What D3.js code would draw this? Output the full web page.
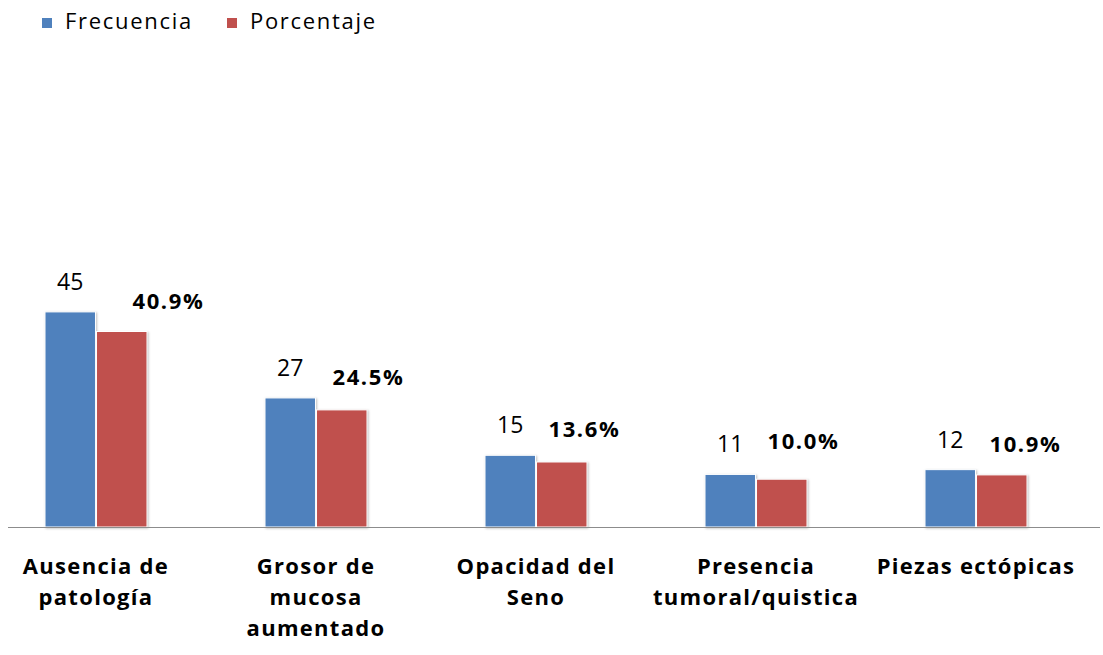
<!DOCTYPE html>
<html>
<head>
<meta charset="utf-8">
<script src="https://cdn.jsdelivr.net/npm/d3@7"></script>
<style>
  body { margin: 0; background: #fff; }
  text { font-family: "Open Sans", sans-serif; fill: #000; }
</style>
</head>
<body>
<div id="graph"></div>
<script>
// data
var categories = ["Ausencia de patología", "Grosor de mucosa aumentado", "Opacidad del Seno", "Presencia tumoral/quistica", "Piezas ectópicas"];
var categoryLines = [["Ausencia de", "patología"], ["Grosor de", "mucosa", "aumentado"], ["Opacidad del", "Seno"], ["Presencia", "tumoral/quistica"], ["Piezas ectópicas"]];
var series = ["Frecuencia", "Porcentaje"];
var frecuencia = [45, 27, 15, 11, 12];
var porcentaje = [40.9, 24.5, 13.6, 10.0, 10.9];
var colors = ["#4f81bd", "#c0504d"];

// percent labels were nudged by hand in the original
var pctDx = [36, 16, 12, 11, 13];
var pctDy = [22, 25, 25, 30, 23];

var width = 1103, height = 655;
var baseY = 527;

var svg = d3.select('#graph')
  .append('svg')
    .attr("width", width)
    .attr("height", height);

var x0 = d3.scaleBand()
    .domain(categories)
    .range([-14, 1086]);

var bw = x0.bandwidth();
var x1 = d3.scaleBand()
    .domain(series)
    .range([bw / 2 - 51, bw / 2 + 51])
    .paddingInner(0.02);

var y = d3.scaleLinear()
    .domain([0, 100])
    .range([baseY, 49]);

var rows = categories.map(function(c, i) {
  return {cat: c, vals: [frecuencia[i], porcentaje[i]], i: i};
});

var groups = svg.selectAll(".grp")
  .data(rows)
  .enter().append("g")
    .attr("class", "grp")
    .attr("transform", function(d) { return "translate(" + x0(d.cat) + ",0)"; });

groups.selectAll("rect")
  .data(function(d) { return d.vals.map(function(v, k) { return {s: series[k], v: v, k: k}; }); })
  .enter().append("rect")
    .attr("x", function(d) { return x1(d.s); })
    .attr("y", function(d) { return y(d.v); })
    .attr("width", x1.bandwidth())
    .attr("height", function(d) { return baseY - y(d.v); })
    .attr("fill", function(d) { return colors[d.k]; })
    .attr("stroke", "#fff")
    .attr("stroke-width", 1)
    .style("filter", "drop-shadow(1px 1px 1px rgba(0,0,0,0.25))");

// frequency labels
groups.append("text")
    .attr("x", x1("Frecuencia") + x1.bandwidth() / 2)
    .attr("y", function(d) { return y(d.vals[0]) - 22; })
    .attr("text-anchor", "middle")
    .attr("font-size", 23)
    .text(function(d) { return d.vals[0]; });

// percent labels
groups.append("text")
    .attr("x", function(d) { return x1("Porcentaje") + pctDx[d.i]; })
    .attr("y", function(d) { return y(d.vals[1]) - pctDy[d.i]; })
    .attr("font-size", 22)
    .attr("font-weight", "bold")
    .style("letter-spacing", "1.6px")
    .text(function(d) { return d.vals[1].toFixed(1) + "%"; });

// axis line
svg.append("line")
    .attr("x1", 8).attr("x2", 1100)
    .attr("y1", baseY + 0.5).attr("y2", baseY + 0.5)
    .attr("stroke", "#8c8c8c")
    .attr("stroke-width", 1);

// category labels
groups.append("text")
    .attr("text-anchor", "middle")
    .attr("font-size", 22)
    .attr("font-weight", "bold")
    .style("letter-spacing", "1.3px")
    .selectAll("tspan")
    .data(function(d) { return categoryLines[d.i]; })
    .enter().append("tspan")
      .attr("x", bw / 2)
      .attr("y", function(d, j) { return 574 + j * 31; })
      .text(function(d) { return d; });

// legend
var legend = svg.append("g");
var legX = [42, 227];
series.forEach(function(s, k) {
  legend.append("rect")
    .attr("x", legX[k]).attr("y", 18)
    .attr("width", 10).attr("height", 10)
    .attr("fill", colors[k]);
  legend.append("text")
    .attr("x", legX[k] + 23).attr("y", 29)
    .attr("font-size", 22)
    .style("letter-spacing", "1.7px")
    .text(s);
});
</script>
</body>
</html>
